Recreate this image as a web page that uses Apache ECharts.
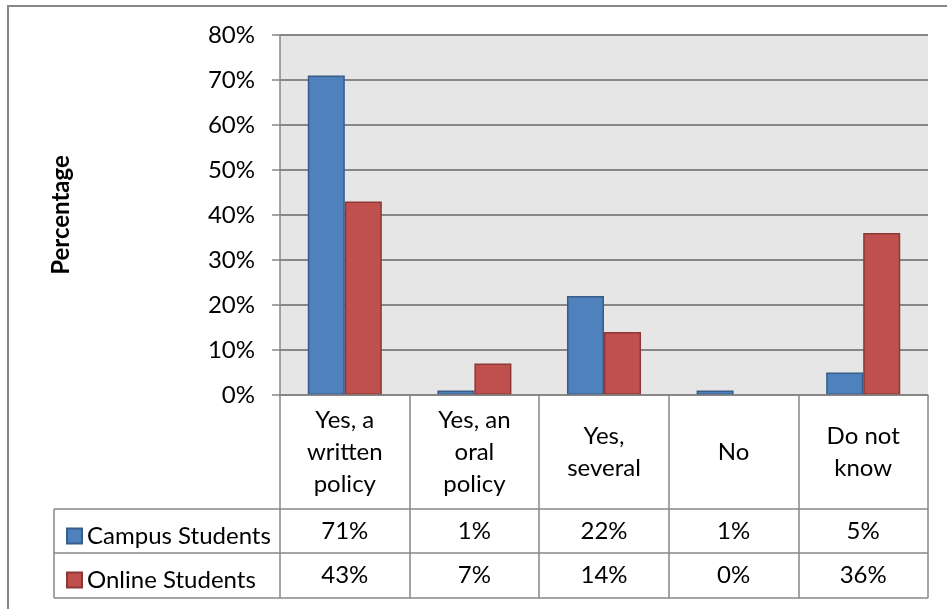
<!DOCTYPE html>
<html>
<head>
<meta charset="utf-8">
<script src="https://cdn.jsdelivr.net/npm/echarts@6/dist/echarts.min.js"></script>
<style>
  html, body { margin: 0; padding: 0; background: #fff; }
  #chart { width: 947px; height: 609px; }
</style>
</head>
<body>
<div id="chart"></div>
<script>
// data
var categories = ['Yes, a\nwritten\npolicy', 'Yes, an\noral\npolicy', 'Yes,\nseveral', 'No', 'Do not\nknow'];
var campusStudents = [71, 1, 22, 1, 5];
var onlineStudents = [43, 7, 14, 0, 36];
var yTicks = [0, 10, 20, 30, 40, 50, 60, 70, 80];

// layout
var W = 947, H = 609;
var plotLeft = 280, plotRight = 928, plotTop = 35, plotBottom = 395;
var headerBottom = 509, row1Bottom = 553, row2Bottom = 598;
var legendLeft = 54;
var lineGray = '#878787';
var font = 'Lato';

function pct(v) { return v + '%'; }

// a zero bar draws nothing in the original, so drop its border
function barData(values) {
  return values.map(function (v) {
    return v === 0 ? { value: v, itemStyle: { borderWidth: 0 } } : v;
  });
}

var chart = echarts.init(document.getElementById('chart'));

var tableLines = [
  [legendLeft, headerBottom, plotRight, headerBottom],
  [legendLeft, row1Bottom, plotRight, row1Bottom],
  [legendLeft, row2Bottom, plotRight, row2Bottom],
  [legendLeft, headerBottom, legendLeft, row2Bottom]
].map(function (l) {
  return {
    type: 'line',
    shape: { x1: l[0], y1: l[1], x2: l[2], y2: l[3] },
    style: { stroke: lineGray, lineWidth: 1.5 },
    z: 10
  };
});

var option = {
  animation: false,
  textStyle: { fontFamily: font },
  grid: {
    left: plotLeft,
    right: W - plotRight,
    top: plotTop,
    bottom: H - plotBottom,
    show: true,
    backgroundColor: '#E6E6E6',
    borderWidth: 0
  },
  legend: {
    orient: 'vertical',
    left: 61,
    top: 519,
    itemGap: 20,
    itemWidth: 15,
    itemHeight: 15,
    icon: 'rect',
    textStyle: { fontSize: 24, color: '#000', lineHeight: 24, fontFamily: font },
    data: ['Campus Students', 'Online Students']
  },
  xAxis: [
    {
      type: 'category',
      position: 'bottom',
      data: categories,
      axisLine: { show: true, lineStyle: { color: lineGray, width: 1.5 } },
      axisTick: { show: true, interval: 0, length: row2Bottom - plotBottom, lineStyle: { color: lineGray, width: 1.5 } },
      axisLabel: {
        interval: 0,
        margin: (plotBottom + headerBottom) / 2 - plotBottom,
        verticalAlign: 'middle',
        lineHeight: 32,
        fontSize: 24,
        color: '#000',
        fontFamily: font
      },
      z: 5
    },
    {
      type: 'category',
      position: 'bottom',
      data: campusStudents.map(pct),
      axisLine: { show: false },
      axisTick: { show: false },
      axisLabel: {
        interval: 0,
        margin: (headerBottom + row1Bottom) / 2 - plotBottom,
        verticalAlign: 'middle',
        fontSize: 24,
        color: '#000',
        fontFamily: font
      }
    },
    {
      type: 'category',
      position: 'bottom',
      data: onlineStudents.map(pct),
      axisLine: { show: false },
      axisTick: { show: false },
      axisLabel: {
        interval: 0,
        margin: (row1Bottom + row2Bottom) / 2 - plotBottom,
        verticalAlign: 'middle',
        fontSize: 24,
        color: '#000',
        fontFamily: font
      }
    }
  ],
  yAxis: {
    type: 'value',
    min: yTicks[0],
    max: yTicks[yTicks.length - 1],
    interval: 10,
    name: 'Percentage',
    nameLocation: 'middle',
    nameRotate: 90,
    nameGap: 207,
    nameTextStyle: { fontSize: 24, fontWeight: 'bold', color: '#000', fontFamily: font },
    axisLine: { show: true, lineStyle: { color: lineGray, width: 1.5 } },
    axisTick: { show: true, length: 8, lineStyle: { color: lineGray, width: 1.5 } },
    axisLabel: { formatter: '{value}%', fontSize: 24, color: '#000', margin: 25, fontFamily: font },
    splitLine: { show: true, lineStyle: { color: lineGray, width: 2 } }
  },
  series: [
    {
      name: 'Campus Students',
      type: 'bar',
      data: barData(campusStudents),
      barGap: '0%',
      barCategoryGap: '42.86%',
      itemStyle: { color: '#4F81BD', borderColor: '#385D8A', borderWidth: 1.5 }
    },
    {
      name: 'Online Students',
      type: 'bar',
      data: barData(onlineStudents),
      itemStyle: { color: '#C0504D', borderColor: '#8C3836', borderWidth: 1.5 }
    }
  ],
  graphic: [
    {
      type: 'rect',
      shape: { x: 8, y: 6, width: W + 10, height: H + 10 },
      style: { fill: 'none', stroke: lineGray, lineWidth: 2 },
      silent: true
    }
  ].concat(tableLines)
};

chart.setOption(option);
</script>
</body>
</html>
